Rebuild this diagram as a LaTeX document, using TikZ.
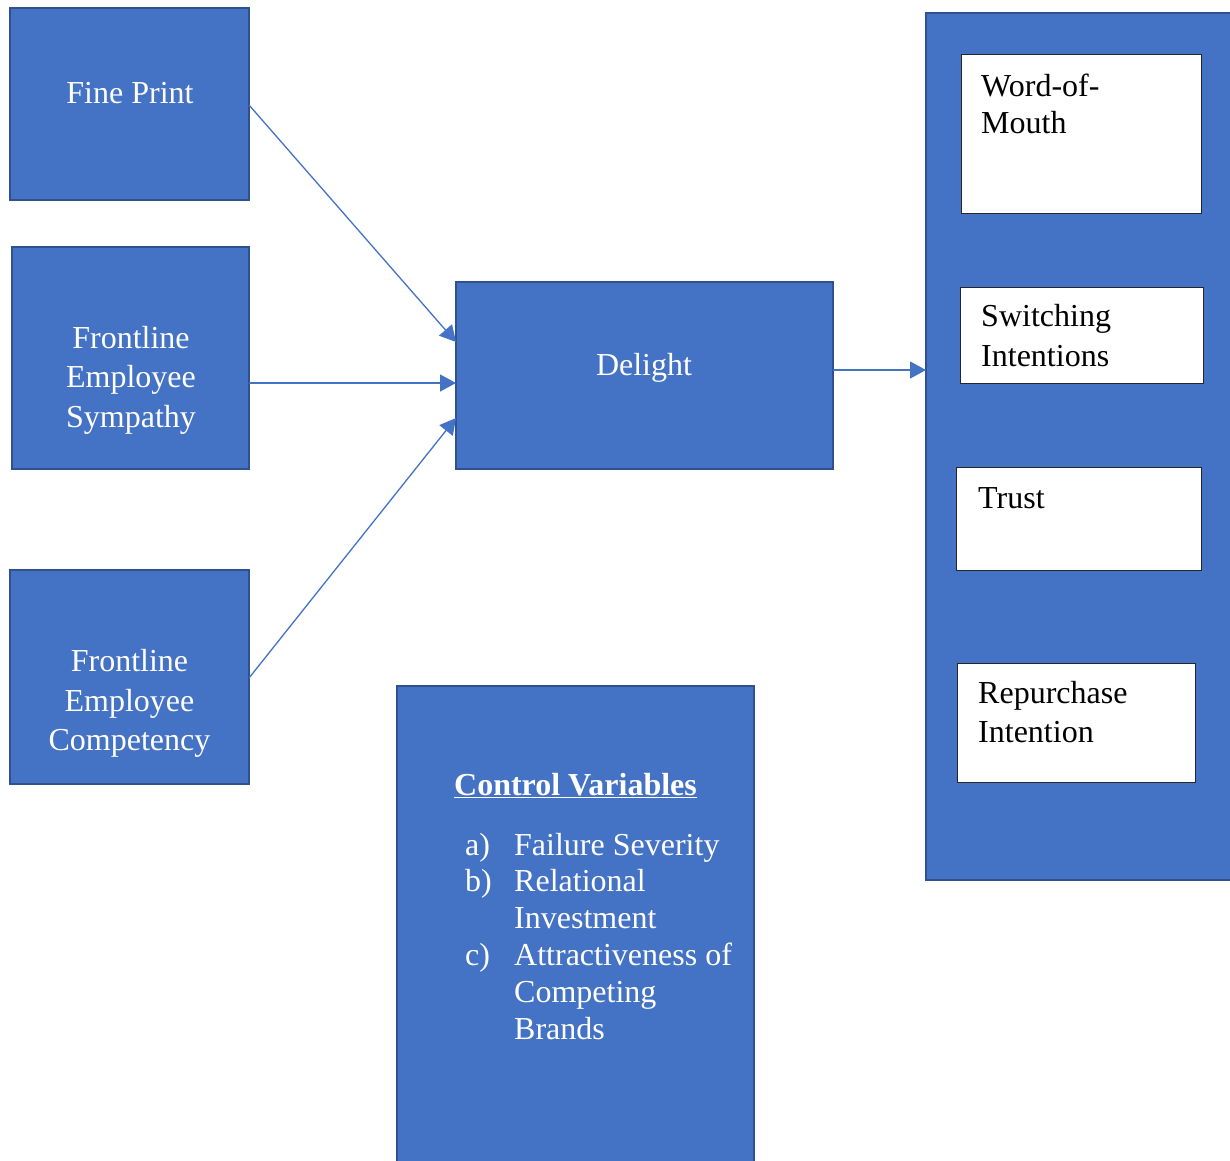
\documentclass[tikz,border=0pt]{standalone}
\usepackage{fontspec}
\setmainfont{Liberation Serif}
\usetikzlibrary{arrows.meta,calc}
\definecolor{boxblue}{HTML}{4472C4}
\definecolor{boxedge}{HTML}{2F528F}
\newcommand{\stackc}[1]{\begin{tabular}[t]{@{}c@{}}#1\end{tabular}}
\newcommand{\stackl}[1]{\begin{tabular}[t]{@{}l@{}}#1\end{tabular}}
\begin{document}
\begin{tikzpicture}[x=1pt,y=-1pt,
  bluebox/.style={draw=boxedge, line width=2pt, fill=boxblue, inner sep=0pt, outer sep=0pt, anchor=north west},
  whitebox/.style={draw=black!85, line width=1pt, fill=white, inner sep=0pt, outer sep=0pt, anchor=north west},
  wtxt/.style={inner sep=0pt, text=white, font=\fontsize{32}{39.4}\selectfont},
  btxt/.style={inner sep=0pt, text=black, font=\fontsize{32}{39.4}\selectfont},
  arr/.style={draw=boxblue, line width=1.3pt, -{Triangle[length=16pt,width=17pt]}}]
\path[use as bounding box, fill=white] (0,0) rectangle (1230,1160);
% boxes
\node[bluebox, minimum width=239pt, minimum height=192pt] (fp) at (10,8) {};
\node[bluebox, minimum width=237pt, minimum height=222pt] (fes) at (12,247) {};
\node[bluebox, minimum width=239pt, minimum height=214pt] (fec) at (10,570) {};
\node[bluebox, minimum width=377pt, minimum height=187pt] (del) at (456,282) {};
\node[bluebox, minimum width=310pt, minimum height=867pt] (outer) at (926,13) {};
\node[whitebox, minimum width=240pt, minimum height=159pt] (wom) at (961,54) {};
\node[whitebox, minimum width=243pt, minimum height=96pt] (swi) at (960,287) {};
\node[whitebox, minimum width=245pt, minimum height=103pt] (tru) at (956,467) {};
\node[whitebox, minimum width=238pt, minimum height=119pt] (rep) at (957,663) {};
\node[bluebox, minimum width=357pt, minimum height=490pt] (ctl) at (397,686) {};
% texts
\node[wtxt, anchor=base] (tfp) at (130,103) {Fine Print};
\node[wtxt, anchor=base] (tfes) at (131,348.3) {\stackc{Frontline\\Employee\\Sympathy}};
\node[wtxt, anchor=base] (tfec) at (129.5,671.7) {\stackc{Frontline\\Employee\\Competency}};
\node[wtxt, anchor=base] (tdel) at (644,375) {Delight};
\node[btxt, anchor=base west, font=\fontsize{32}{36.6}\selectfont] (twom) at (981,96.7) {\stackl{Word-of-\\Mouth}};
\node[btxt, anchor=base west] (tswi) at (981,326.7) {\stackl{Switching\\Intentions}};
\node[btxt, anchor=base west] (ttru) at (978,508.3) {Trust};
\node[btxt, anchor=base west] (trep) at (978,703.3) {\stackl{Repurchase\\Intention}};
\node[wtxt, anchor=base] (tctl) at (575.5,795) {\textbf{\underline{Control Variables}}};
\node[wtxt, anchor=base west, font=\fontsize{32}{36.8}\selectfont] (tlist) at (465,855)
  {\begin{tabular}[t]{@{}p{49pt}@{}l@{}}
   a) & Failure Severity\\
   b) & Relational\\
      & Investment\\
   c) & Attractiveness of\\
      & Competing\\
      & Brands
   \end{tabular}};
% connectors
\draw[arr] ([yshift=-1pt]fp.east) -- ([yshift=33.5pt]del.west);
\draw[arr] ([yshift=-25pt]fes.east) -- ([yshift=-7.5pt]del.west);
\draw[arr] ([yshift=-1pt]fec.east) -- ([yshift=-42.5pt]del.west);
\draw[arr] ([yshift=5.5pt]del.east) -- ([yshift=5.5pt]del.east -| outer.west);
\end{tikzpicture}
\end{document}
